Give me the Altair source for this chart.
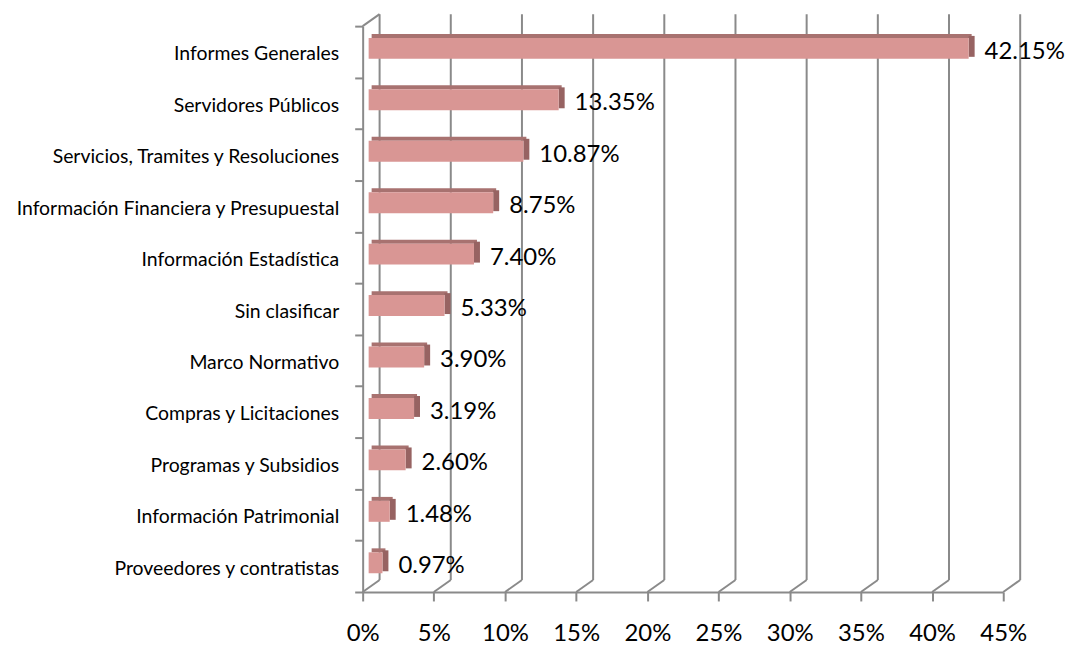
import altair as alt
import pandas as pd

categories = ["Informes Generales", "Servidores Públicos", "Servicios, Tramites y Resoluciones",
              "Información Financiera y Presupuestal", "Información Estadística", "Sin clasificar",
              "Marco Normativo", "Compras y Licitaciones", "Programas y Subsidios",
              "Información Patrimonial", "Proveedores y contratistas"]
values = [42.15, 13.35, 10.87, 8.75, 7.40, 5.33, 3.90, 3.19, 2.60, 1.48, 0.97]
tick_values = [0, 5, 10, 15, 20, 25, 30, 35, 40, 45]

df = pd.DataFrame({"cat": categories, "v": values})
tdf = pd.DataFrame({"t": tick_values})
cdf = pd.DataFrame({"t": [0]})

W, H = 643, 568
GRAY = "#8a8a8a"
FRONT = "#d99694"
TOP = "#a87270"
SIDE = "#976362"
FONT = "Lato"

xscale = alt.Scale(domain=[0, 45], nice=False, zero=True)
yscale = alt.Scale(domain=categories, paddingInner=0, paddingOuter=0)

xaxis = alt.Axis(values=tick_values, labelExpr="datum.value + '%'", title=None, grid=False,
                 tickSize=9, tickColor=GRAY, tickWidth=2, domainColor=GRAY, domainWidth=2,
                 labelFont=FONT, labelFontSize=24, labelColor="black", labelPadding=40,
                 labelBaseline="alphabetic", labelFlush=False, labelOverlap=False)
yaxis = alt.Axis(title=None, tickBand="extent", tickSize=8, tickColor=GRAY, tickWidth=2,
                 domainColor=GRAY, domainWidth=2, labelFont=FONT, labelFontSize=19.5,
                 labelColor="black", labelPadding=16, labelLimit=0, labelOffset=2)

grid = alt.Chart(tdf).mark_rule(color=GRAY, strokeWidth=2, xOffset=17, yOffset=-12, y2Offset=-12).encode(
    x=alt.X("t:Q", scale=xscale, axis=xaxis), y=alt.value(0), y2=alt.value("height"))

diag = alt.Chart(tdf).mark_rule(color=GRAY, strokeWidth=2, x2Offset=17, y2Offset=-12).encode(
    x=alt.X("t:Q", scale=xscale), x2=alt.X2("t"), y=alt.value("height"), y2=alt.value("height"))

corner = alt.Chart(cdf).mark_rule(color=GRAY, strokeWidth=2, x2Offset=17, y2Offset=-12).encode(
    x=alt.X("t:Q", scale=xscale), x2=alt.X2("t"), y=alt.value(0), y2=alt.value(0))

ybase = alt.Y("cat:N", scale=yscale, sort=categories, axis=yaxis)

top = alt.Chart(df).mark_bar(color=TOP, height=4, xOffset=9, x2Offset=9, yOffset=-16).encode(
    x=alt.X("v:Q", scale=xscale), y=ybase)

side = alt.Chart(df).mark_bar(color=SIDE, height=21, xOffset=6, x2Offset=12, yOffset=-5.5).encode(
    x=alt.X("v:Q", scale=xscale), x2=alt.X2("v"), y=ybase)

front = alt.Chart(df).mark_bar(color=FRONT, height=21, xOffset=6, x2Offset=6, yOffset=-3.5).encode(
    x=alt.X("v:Q", scale=xscale), y=ybase)

labels = alt.Chart(df).transform_calculate(
    label="format(datum.v, '.2f') + '%'"
).mark_text(align="left", baseline="middle", dx=22, dy=0, font=FONT, fontSize=24, color="black").encode(
    x=alt.X("v:Q", scale=xscale), y=ybase, text="label:N")

chart = alt.layer(grid, diag, corner, top, side, front, labels).properties(
    width=W, height=H,
    autosize=alt.AutoSizeParams(type="none"),
    padding={"left": 356, "top": 17, "right": 66, "bottom": 52},
).configure_view(stroke=None)

chart.save("out.html", embed_options={"renderer": "svg", "actions": False})
